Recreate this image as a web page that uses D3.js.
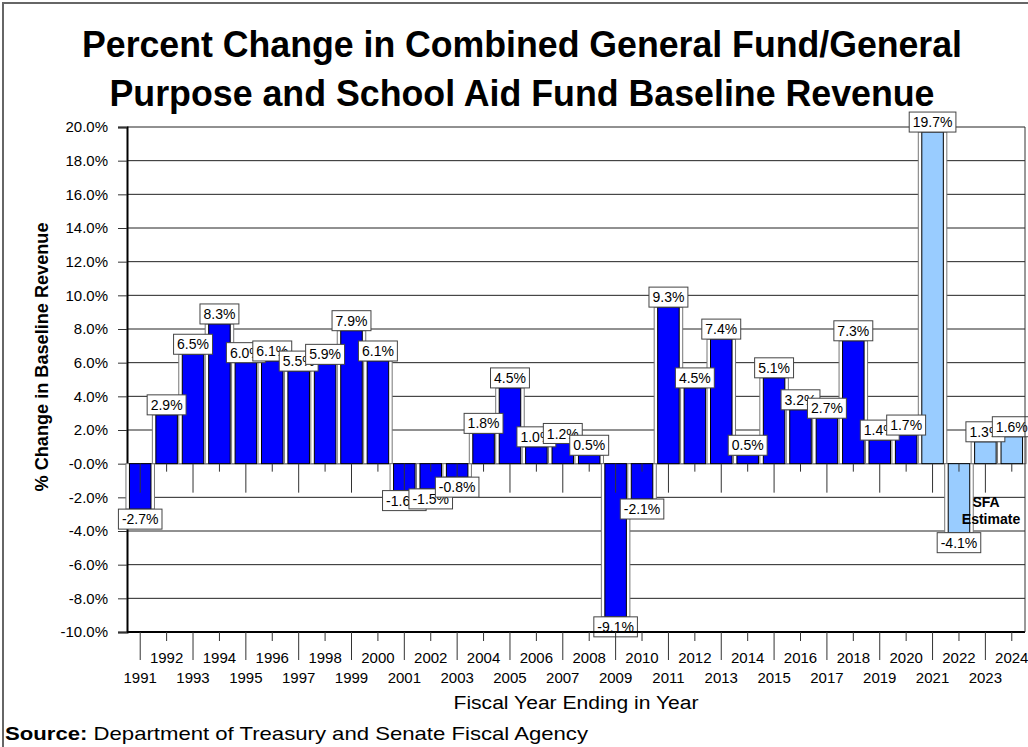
<!DOCTYPE html>
<html>
<head>
<meta charset="utf-8">
<script src="https://cdn.jsdelivr.net/npm/d3@7"></script>
<style>
body{margin:0;background:#fff;}
text{font-family:Arial,"Liberation Sans",sans-serif;}
</style>
</head>
<body>
<div id="chart"></div>
<script>
const years = [1991,1992,1993,1994,1995,1996,1997,1998,1999,2000,2001,2002,2003,2004,2005,2006,2007,2008,2009,2010,2011,2012,2013,2014,2015,2016,2017,2018,2019,2020,2021,2022,2023,2024];
const changes = [-2.7,2.9,6.5,8.3,6.0,6.1,5.5,5.9,7.9,6.1,-1.6,-1.5,-0.8,1.8,4.5,1.0,1.2,0.5,-9.1,-2.1,9.3,4.5,7.4,0.5,5.1,3.2,2.7,7.3,1.4,1.7,19.7,-4.1,1.3,1.6];
const estimateFrom = 2021;
const yTicks = [-10,-8,-6,-4,-2,0,2,4,6,8,10,12,14,16,18,20];
const titleLines = ["Percent Change in Combined General Fund/General","Purpose and School Aid Fund Baseline Revenue"];

const width = 1028;
const height = 747;
const plotLeft = 127, plotRight = 1025, plotTop = 127, plotBottom = 632;

const svg = d3.select("#chart")
    .append("svg")
    .attr("width",width)
    .attr("height",height);

// outer frame
svg.append("rect")
    .attr("x",3).attr("y",3)
    .attr("width",1030).attr("height",800)
    .attr("fill","none")
    .attr("stroke","#666")
    .attr("stroke-width",2);

const x = d3.scaleBand()
    .domain(years)
    .range([plotLeft,plotRight])
    .paddingInner(0.185)
    .paddingOuter(0.0925);

const y = d3.scaleLinear()
    .domain([-10,20])
    .range([plotBottom,plotTop]);

const fmt = v => (v===0 ? "-0.0" : v.toFixed(1)) + "%";

// title
svg.selectAll(".title")
    .data(titleLines)
    .enter()
    .append("text")
    .attr("x",522)
    .attr("y",(d,i)=>57+i*49)
    .attr("text-anchor","middle")
    .attr("font-size",36)
    .attr("font-weight","bold")
    .attr("textLength",(d,i)=>i==0?880:825)
    .attr("lengthAdjust","spacingAndGlyphs")
    .text(d=>d);

// gridlines
svg.append("g")
    .selectAll("line")
    .data(yTicks)
    .enter()
    .append("line")
    .attr("x1",plotLeft).attr("x2",plotRight)
    .attr("y1",d=>y(d)).attr("y2",d=>y(d))
    .attr("stroke","#222")
    .attr("stroke-width",1);

// y axis
const yAxis = svg.append("g")
    .attr("transform",`translate(${plotLeft},0)`)
    .call(d3.axisLeft(y).tickValues(yTicks).tickSize(9).tickPadding(10).tickFormat(fmt));
yAxis.select(".domain").attr("stroke","#000").attr("stroke-width",2);
yAxis.selectAll(".tick line").attr("stroke","#333");
yAxis.selectAll("text").attr("font-size",15).attr("font-family","Arial,'Liberation Sans',sans-serif").attr("fill","#000");

svg.append("text")
    .attr("transform","translate(48,357) rotate(-90)")
    .attr("text-anchor","middle")
    .attr("font-size",18)
    .attr("font-weight","bold")
    .attr("textLength",269)
    .attr("lengthAdjust","spacingAndGlyphs")
    .text("% Change in Baseline Revenue");

// bars, each with a white backing strip, drawn in order
const bars = svg.append("g")
    .selectAll("g")
    .data(years.map((yr,i)=>({year:yr,value:changes[i]})))
    .enter()
    .append("g");

bars.append("rect")
    .attr("x",d=>x(d.year)-3.5)
    .attr("width",x.bandwidth()+7)
    .attr("y",d=>y(Math.max(0,d.value)))
    .attr("height",d=>Math.abs(y(d.value)-y(0)))
    .attr("fill","#fff")
    .attr("stroke","#777")
    .attr("stroke-width",1);

bars.append("rect")
    .attr("x",d=>x(d.year))
    .attr("width",x.bandwidth())
    .attr("y",d=>y(Math.max(0,d.value)))
    .attr("height",d=>Math.abs(y(d.value)-y(0)))
    .attr("fill",d=>d.year>=estimateFrom?"#99CCFF":"#0000FF")
    .attr("stroke","#000")
    .attr("stroke-width",1);

// ticks along the zero line
svg.append("g")
    .selectAll("line")
    .data(years)
    .enter()
    .append("line")
    .attr("x1",d=>x(d)+x.bandwidth()/2)
    .attr("x2",d=>x(d)+x.bandwidth()/2)
    .attr("y1",y(0))
    .attr("y2",d=>y(0)+(d%2?29:8))
    .attr("stroke","#333");

// value labels
const labels = svg.append("g")
    .selectAll("g")
    .data(years.map((yr,i)=>({year:yr,value:changes[i]})))
    .enter()
    .append("g")
    .attr("transform",d=>{
        const cx = x(d.year)+x.bandwidth()/2;
        const cy = d.value>=0 ? y(d.value)-10 : y(d.value)+10;
        return `translate(${cx},${cy})`;
    });

labels.each(function(d){
    const g = d3.select(this);
    const t = g.append("text")
        .attr("text-anchor","middle")
        .attr("dy","0.36em")
        .attr("font-size",14)
        .text(fmt(d.value));
    const w = t.node().getComputedTextLength()+7;
    g.insert("rect","text")
        .attr("x",-w/2).attr("y",-10)
        .attr("width",w).attr("height",20)
        .attr("fill","#fff")
        .attr("stroke","#444")
        .attr("stroke-width",1);
});

// plot border
svg.append("line")
    .attr("x1",plotLeft).attr("x2",plotRight)
    .attr("y1",plotBottom).attr("y2",plotBottom)
    .attr("stroke","#000").attr("stroke-width",2);
svg.append("line")
    .attr("x1",plotRight).attr("x2",plotRight)
    .attr("y1",plotTop).attr("y2",plotBottom)
    .attr("stroke","#333").attr("stroke-width",1);

// bottom ticks and staggered year labels
svg.append("g")
    .selectAll("line")
    .data(years)
    .enter()
    .append("line")
    .attr("x1",d=>x(d)+x.bandwidth()/2)
    .attr("x2",d=>x(d)+x.bandwidth()/2)
    .attr("y1",plotBottom)
    .attr("y2",d=>plotBottom+(d%2?28:9))
    .attr("stroke","#333");

svg.append("g")
    .selectAll("text")
    .data(years)
    .enter()
    .append("text")
    .attr("x",d=>x(d)+x.bandwidth()/2)
    .attr("y",d=>d%2?683:663)
    .attr("text-anchor","middle")
    .attr("font-size",15)
    .text(d=>d);

svg.append("text")
    .attr("x",576)
    .attr("y",709)
    .attr("text-anchor","middle")
    .attr("font-size",18)
    .attr("textLength",245)
    .attr("lengthAdjust","spacingAndGlyphs")
    .text("Fiscal Year Ending in Year");

svg.append("text")
    .attr("y",507)
    .attr("text-anchor","middle")
    .attr("font-size",14)
    .attr("font-weight","bold")
    .selectAll("tspan")
    .data(["SFA","Estimate"])
    .enter()
    .append("tspan")
    .attr("x",(d,i)=>i?991:986)
    .attr("dy",(d,i)=>i?17:0)
    .text(d=>d);

const src = svg.append("text")
    .attr("x",5)
    .attr("y",740)
    .attr("font-size",19)
    .attr("textLength",583)
    .attr("lengthAdjust","spacingAndGlyphs");
src.append("tspan").attr("font-weight","bold").text("Source:");
src.append("tspan").text(" Department of Treasury and Senate Fiscal Agency");
</script>
</body>
</html>
